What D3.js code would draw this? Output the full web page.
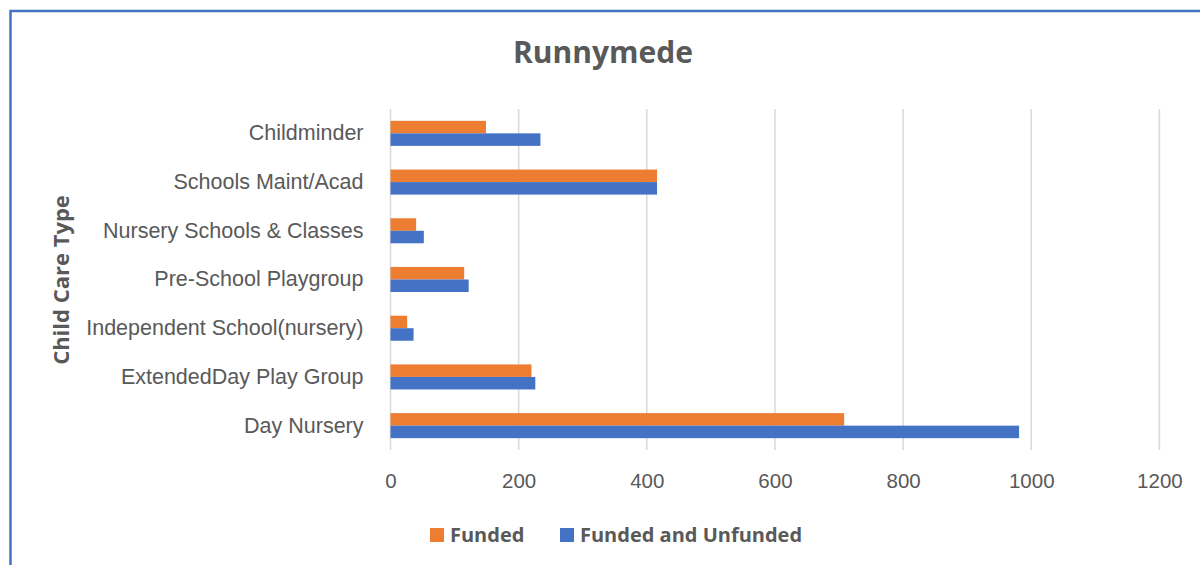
<!DOCTYPE html>
<html>
<head>
<meta charset="utf-8">
<script src="https://cdn.jsdelivr.net/npm/d3@7"></script>
<style>
  body { margin: 0; background: #fff; }
  svg { display: block; font-family: "Open Sans", "Liberation Sans", sans-serif; }
</style>
</head>
<body>
<svg width="1200" height="565"></svg>
<script>
// chart data
const categories = ["Childminder", "Schools Maint/Acad", "Nursery Schools & Classes", "Pre-School Playgroup",
  "Independent School(nursery)", "ExtendedDay Play Group", "Day Nursery"];
const funded = [149, 416, 40, 115, 26, 220, 708];
const fundedAndUnfunded = [234, 416, 52, 122, 36, 226, 981];
const seriesNames = ["Funded", "Funded and Unfunded"];
const xTicks = [0, 200, 400, 600, 800, 1000, 1200];

function main(){
  const svg = d3.select("svg");
  const textCol = "#595959";
  const colors = ["#ED7D31", "#4472C4"];

  // outer frame of the chart area
  svg.append("rect").attr("x", 10.5).attr("y", 11).attr("width", 1300).attr("height", 700)
    .attr("fill", "none").attr("stroke", "#4472C4").attr("stroke-width", 2.5);

  const x = d3.scaleLinear().domain([0, 1200]).range([390.5, 1159.4]);
  const y = d3.scaleBand().domain(categories).range([109, 450]);

  // gridlines
  svg.append("g").selectAll("line").data(xTicks).enter().append("line")
    .attr("x1", d => x(d)).attr("x2", d => x(d))
    .attr("y1", y.range()[0]).attr("y2", y.range()[1])
    .attr("stroke", "#d9d9d9").attr("stroke-width", 1.5);

  // x axis, labels only
  const xAxis = d3.axisBottom(x).tickValues(xTicks).tickFormat(d3.format("d")).tickSize(0).tickPadding(23);
  const gx = svg.append("g").attr("transform", `translate(0, ${y.range()[1]})`).call(xAxis);
  gx.select(".domain").remove();
  gx.selectAll("text").attr("fill", textCol).attr("font-size", 20.5).attr("font-family", null);

  // y axis, labels only
  const yAxis = d3.axisLeft(y).tickSize(0).tickPadding(27);
  const gy = svg.append("g").attr("transform", `translate(${x(0)}, 0)`).call(yAxis);
  gy.select(".domain").remove();
  gy.selectAll("text").attr("fill", textCol).attr("font-size", 21.5).attr("font-family", null);

  // bars: two series per category
  const barH = y.bandwidth() * 0.257;
  const series = [funded, fundedAndUnfunded];
  series.forEach((vals, s) => {
    svg.append("g").selectAll("rect").data(vals).enter().append("rect")
      .attr("x", x(0))
      .attr("y", (d, i) => y(categories[i]) + y.bandwidth() / 2 - barH + s * barH)
      .attr("width", d => x(d) - x(0))
      .attr("height", barH)
      .attr("fill", colors[s]);
  });

  // title
  svg.append("text").attr("x", 603).attr("y", 63).attr("text-anchor", "middle")
    .attr("font-size", 30).attr("font-weight", "bold").attr("fill", textCol).text("Runnymede");

  // y axis title
  svg.append("text").attr("transform", "translate(69, 280) rotate(-90)").attr("text-anchor", "middle")
    .attr("font-size", 22).attr("font-weight", "bold").attr("fill", textCol).text("Child Care Type");

  // legend
  const legX = [430, 560];
  seriesNames.forEach((name, s) => {
    svg.append("rect").attr("x", legX[s]).attr("y", 528).attr("width", 14).attr("height", 14).attr("fill", colors[s]);
    svg.append("text").attr("x", legX[s] + 20).attr("y", 542).attr("font-size", 20).attr("font-weight", "bold")
      .attr("fill", textCol).text(name);
  });
}

main();
</script>
</body>
</html>
